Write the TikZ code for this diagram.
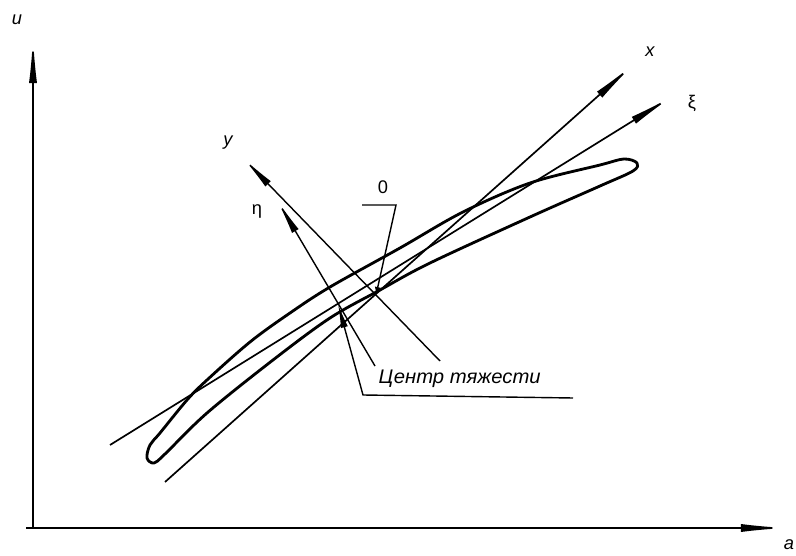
\documentclass[tikz,border=0pt]{standalone}
\usepackage{fontspec}
\setmainfont{Liberation Sans}
\newfontfamily\cgfont[FakeStretch=1.03]{Liberation Sans}
\usetikzlibrary{arrows.meta}

\begin{document}
\begin{tikzpicture}[x=0.025cm, y=-0.025cm,
        ax/.style  ={-{Latex[length=1.15cm, width=2mm]}, line width=1.2pt},
        sax/.style ={-{Latex[length=0.9cm, width=1.9mm]}, line width=1pt},
        lead/.style={line width=1pt},
        loop/.style={line width=2pt, line join=round},
        lbl/.style ={font=\fontsize{13}{15}\selectfont, inner sep=1pt},]

    \useasboundingbox (0,0) rectangle (796,556);

    % main axes
    \coordinate (corner) at (33,528);
    \coordinate (aS) at (26,528);
    \coordinate (aE) at (787,528);
    \coordinate (uE) at (33,37);
    \draw[ax] (aS) -- (aE);
    \draw[ax] (corner) -- (uE);
    \node[lbl] (ulbl) at (17,20) {\itshape u};
    \node[lbl] (albl) at (789,545) {\itshape a};

    % centre points
    \coordinate (O) at (376,295);
    \coordinate (C) at (338,304);

    % rotated axes
    \coordinate (xS)   at (165,482);
    \coordinate (xE)   at (634,64);
    \coordinate (xiS)  at (110,445);
    \coordinate (xiE)  at (673,96);
    \coordinate (yS)   at (440,361);
    \coordinate (yE)   at (243,158);
    \coordinate (etaS) at (375,366);
    \coordinate (etaE) at (277,200);
    \draw[ax]  (xS) -- (xE);
    \draw[ax]  (xiS) -- (xiE);
    \draw[sax] (yS) -- (yE);
    \draw[sax] (etaS) -- (etaE);
    \node[lbl] (xlbl)   at (650,52)  {\itshape x};
    \node[lbl] (xilbl)  at (692,103) {ξ};
    \node[lbl] (ylbl)   at (228,143) {\itshape y};
    \node[lbl] (etalbl) at (257,211) {η};

    % elongated loop
    \draw[loop] plot[smooth cycle, tension=0.55] coordinates {
        (160,433) (187,400) (207,380) (250,342) (290,313) (330,287)
        (400,248) (463,212) (530,183) (600,165) (624,159) (637,163)
        (633,171) (600,186) (530,217) (430,263) (380,290) (330,318)
        (273,360) (207,413) (165,454) (154,463) (147,458) (150,445)};

    % leader to origin
    \node[lbl] (zlbl) at (383,187) {0};
    \coordinate (zL) at (362,205);
    \coordinate (zR) at (396,205);
    \draw[lead, -{Latex[length=2mm, width=1.5mm]}] (zL) -- (zR) -- (O);

    % leader to centre of gravity
    \node[lbl, font=\cgfont\itshape\fontsize{14}{16}\selectfont, anchor=base west]
        (cg) at (377,384) {Центр тяжести};
    \coordinate (cgR) at (573,398);
    \coordinate (cgL) at (363,395);
    \draw[lead, -{Latex[length=0.6cm, width=1.8mm]}] (cgR) -- (cgL) -- (C);
\end{tikzpicture}
\end{document}
